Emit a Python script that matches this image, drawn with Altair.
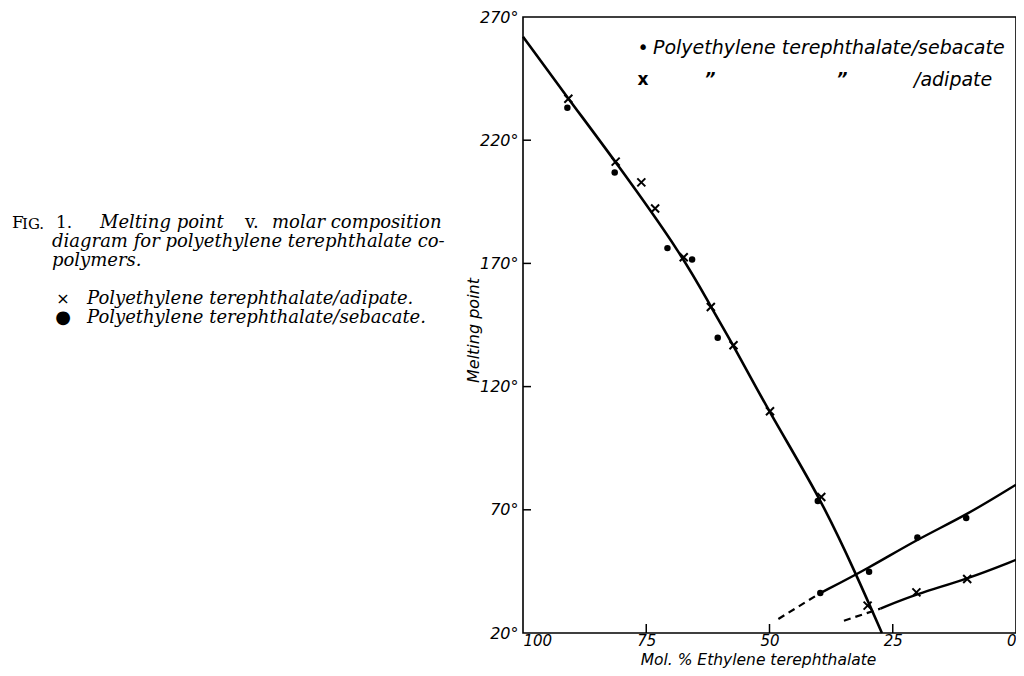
import altair as alt
import pandas as pd

# ---- data ----
# Polyethylene terephthalate / sebacate (dots)
seb_x = [91.0, 81.4, 70.7, 65.7, 60.5, 40.2, 39.7, 29.8, 20.0, 10.1]
seb_y = [233.2, 206.9, 176.2, 171.6, 139.8, 73.6, 36.2, 44.9, 58.8, 66.7]
# Polyethylene terephthalate / adipate (crosses)
adi_x = [90.8, 81.2, 76.0, 73.2, 67.4, 61.9, 57.3, 49.9, 39.5, 30.1, 20.2, 9.9]
adi_y = [236.8, 211.3, 202.9, 192.3, 172.5, 152.3, 136.8, 110.0, 75.2, 31.1, 36.5, 41.9]

# main melting-point curve
curve_x = [100, 90.8, 81.2, 67.4, 61.9, 57.3, 49.9, 39.6, 32.4, 27.2]
curve_y = [262.0, 236.8, 211.3, 172.5, 152.3, 136.8, 109.0, 74.6, 43.7, 20.0]

# sebacate branch (dashed extrapolation, then solid)
seb_dash_x = [48.2, 39.7]
seb_dash_y = [25.7, 36.2]
seb_line_x = [39.7, 29.9, 20.0, 10.1, 0]
seb_line_y = [36.2, 46.3, 58.1, 67.8, 80.2]
# adipate branch (dashed extrapolation, then solid)
adi_dash_x = [34.9, 27.5]
adi_dash_y = [25.0, 29.9]
adi_line_x = [27.5, 20.2, 9.9, 0]
adi_line_y = [29.9, 35.8, 41.9, 49.7]

x_ticks = [100, 75, 50, 25, 0]
y_ticks = [20, 70, 120, 170, 220, 270]
x_inner_ticks = [75, 50, 25]
y_inner_ticks = [70, 120, 170, 220]

# ---- layout ----
W, H = 493, 616
LEFT, TOP = 523, 17  # page position of plot area
SANS = "DejaVu Sans"
SERIF = "DejaVu Serif"

xs = alt.Scale(domain=[100, 0], nice=False, zero=False)
ys = alt.Scale(domain=[20, 270], nice=False, zero=False)

x_enc = alt.X(
    "x:Q", scale=xs,
    axis=alt.Axis(
        values=x_ticks, ticks=False, grid=False, domain=False,
        labelFont=SANS, labelFontStyle="italic", labelFontSize=15,
        labelColor="black", labelPadding=0, labelFlush=True,
        title="Mol. % Ethylene terephthalate", titleFont=SANS,
        titleFontStyle="italic", titleFontSize=15.5, titleFontWeight="normal",
        titleColor="black", titleX=235, titleY=26, titleAlign="center",
        titleBaseline="middle",
    ),
)
y_enc = alt.Y(
    "y:Q", scale=ys,
    axis=alt.Axis(
        values=y_ticks, ticks=False, grid=False, domain=False,
        labelFont=SANS, labelFontStyle="italic", labelFontSize=16,
        labelColor="black", labelPadding=5, labelExpr="datum.label + '°'",
        title="Melting point", titleFont=SANS, titleFontStyle="italic",
        titleFontSize=16, titleFontWeight="normal", titleColor="black",
        titleAngle=270, titleX=-50, titleY=313, titleAlign="center",
        titleBaseline="middle",
    ),
)

curve_df = pd.DataFrame({"x": curve_x, "y": curve_y})
main_curve = alt.Chart(curve_df).mark_line(
    color="black", strokeWidth=2.6, interpolate="basis"
).encode(x=x_enc, y=y_enc)

solid_df = pd.concat([
    pd.DataFrame({"x": seb_line_x, "y": seb_line_y, "seg": "seb"}),
    pd.DataFrame({"x": adi_line_x, "y": adi_line_y, "seg": "adi"}),
])
solid = alt.Chart(solid_df).mark_line(
    color="black", strokeWidth=2.4, interpolate="basis"
).encode(x=x_enc, y=y_enc, detail="seg:N")

dash_df = pd.concat([
    pd.DataFrame({"x": seb_dash_x, "y": seb_dash_y, "seg": "seb"}),
    pd.DataFrame({"x": adi_dash_x, "y": adi_dash_y, "seg": "adi"}),
])
dashed = alt.Chart(dash_df).mark_line(
    color="black", strokeWidth=2.2, strokeDash=[7, 5]
).encode(x=x_enc, y=y_enc, detail="seg:N")

dots = alt.Chart(pd.DataFrame({"x": seb_x, "y": seb_y})).mark_point(
    shape="circle", filled=True, color="black", size=42, opacity=1
).encode(x=x_enc, y=y_enc)

crosses = alt.Chart(pd.DataFrame({"x": adi_x, "y": adi_y})).mark_point(
    shape="M-1,-1L1,1M-1,1L1,-1", filled=False, color="black",
    strokeWidth=2, size=64, opacity=1
).encode(x=x_enc, y=y_enc)

# inward tick marks
ytick_layer = alt.Chart(pd.DataFrame({"y": y_inner_ticks})).mark_rule(
    color="black", strokeWidth=1.5
).encode(y=y_enc, x=alt.value(0), x2=alt.value(8))
xtick_layer = alt.Chart(pd.DataFrame({"x": x_inner_ticks})).mark_rule(
    color="black", strokeWidth=1.5
).encode(x=x_enc, y=alt.value(H), y2=alt.value(H - 9))


def label(text, px, py, font=SANS, size=17, style="italic", weight="normal",
          align="left"):
    return alt.Chart(pd.DataFrame({"t": [text]})).mark_text(
        font=font, fontSize=size, fontStyle=style, fontWeight=weight,
        align=align, baseline="middle", color="black"
    ).encode(text="t:N", x=alt.value(px - LEFT), y=alt.value(py - TOP))


legend_in = [
    label("•", 643, 48, size=19, align="center"),
    label("Polyethylene terephthalate/sebacate", 653, 48, size=19),
    label("x", 643, 80, size=17, style="normal", weight="bold", align="center"),
    label("”", 710, 80, size=17, weight="bold", align="center"),
    label("”", 842, 80, size=17, weight="bold", align="center"),
    label("/adipate", 914, 80, size=19),
]

caption = [
    label("F", 12, 223, font=SERIF, size=17, style="normal"),
    label("IG.", 22, 224, font=SERIF, size=15, style="normal"),
    label("1.", 56, 223, font=SERIF, size=17, style="normal"),
    label("Melting point", 100, 223, font=SERIF, size=18),
    label("v.", 245, 223, font=SERIF, size=18, style="normal"),
    label("molar composition", 272, 223, font=SERIF, size=18),
    label("diagram for polyethylene terephthalate co-", 52, 242, font=SERIF, size=18),
    label("polymers.", 52, 261, font=SERIF, size=18),
    label("×", 63, 299, font=SANS, size=16, style="normal", align="center"),
    label("Polyethylene terephthalate/adipate.", 87, 299, font=SERIF, size=18),
    label("●", 63, 318, font=SANS, size=18, style="normal", align="center"),
    label("Polyethylene terephthalate/sebacate.", 87, 318, font=SERIF, size=18),
]

chart = alt.layer(
    main_curve, solid, dashed, dots, crosses, ytick_layer, xtick_layer,
    *legend_in, *caption
).properties(
    width=W, height=H,
    autosize=alt.AutoSizeParams(type="none"),
    padding={"left": LEFT - 8, "top": TOP - 8, "right": 0, "bottom": 35},
    background="white",
).configure_view(
    stroke="black", strokeWidth=1.6
)

chart.save("out.html", embed_options={"renderer": "svg", "actions": False})
